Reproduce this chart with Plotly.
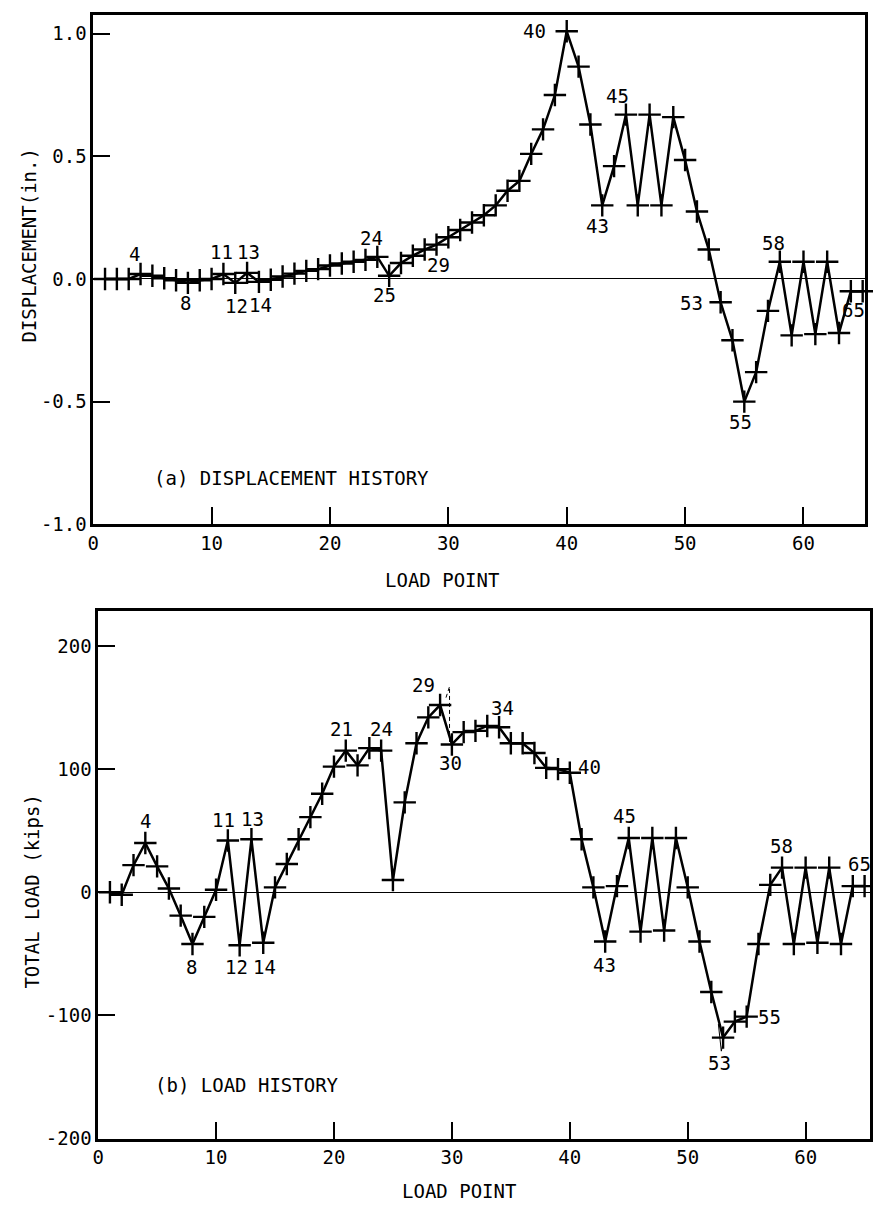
import plotly.graph_objects as go

# ---------------- data ----------------
load_points = list(range(1, 66))

displacement = [0.0, 0.0, 0.0, 0.02, 0.013, 0.003, -0.005, -0.016, -0.005, 0.0,
                0.02, -0.016, 0.025, -0.012, -0.003, 0.01, 0.022, 0.033, 0.04, 0.055,
                0.063, 0.07, 0.078, 0.09, 0.013, 0.065, 0.095, 0.12, 0.14, 0.17,
                0.2, 0.23, 0.26, 0.3, 0.36, 0.4, 0.51, 0.61, 0.75, 1.01,
                0.866, 0.63, 0.3, 0.46, 0.67, 0.3, 0.67, 0.3, 0.66, 0.485,
                0.275, 0.12, -0.095, -0.25, -0.5, -0.38, -0.13, 0.07, -0.23, 0.07,
                -0.225, 0.07, -0.22, -0.05, -0.05]

total_load = [0, -2, 22, 40, 21, 3, -19, -42, -20, 2,
              42, -43, 43, -41, 4, 23, 43, 61, 80, 102,
              115, 103, 117, 115, 10, 73, 121, 142, 152, 120,
              130, 131, 135, 134, 121, 121, 113, 101, 100, 97,
              43, 4, -40, 5, 44, -32, 44, -31, 44, 4,
              -40, -81, -118, -105, -101, -42, 6, 20, -42, 20,
              -41, 20, -42, 5, 5]

# auxiliary thin strokes in the load history (overshoot traces)
aux1_x = [29.5, 29.8, 29.8]
aux1_y = [158, 167, 121]
aux2_x = [52.6, 52.85, 53.1]
aux2_y = [-107, -129, -117]

disp_labels = [4, 8, 11, 12, 13, 14, 24, 25, 29, 40, 43, 45, 53, 55, 58, 65]
load_labels = [4, 8, 11, 12, 13, 14, 21, 24, 29, 30, 34, 40, 43, 45, 53, 55, 58, 65]

x_ticks = [0, 10, 20, 30, 40, 50, 60]
disp_ticks = [-1.0, -0.5, 0.0, 0.5, 1.0]
disp_tick_text = ["-1.0", "-0.5", "0.0", "0.5", "1.0"]
load_ticks = [-200, -100, 0, 100, 200]
load_tick_text = ["-200", "-100", "0", "100", "200"]

# ---------------- styles ----------------
FONT = "DejaVu Sans Mono"
W, H = 873, 1216

# label offsets (pixels) relative to the labelled point
disp_off = {4: (-6, 20), 8: (-2, -20), 11: (-2, 22), 12: (1, -23), 13: (1, 21),
            14: (2, -23), 24: (-6, 19), 25: (-5, -19), 29: (2, -20), 40: (-32, 0),
            43: (-5, -21), 45: (-8, 19), 53: (-29, -1), 55: (-4, -20), 58: (-6, 19),
            65: (-9, -19)}
load_off = {4: (0, 22), 8: (-1, -23), 11: (-4, 21), 12: (-3, -22), 13: (1, 20),
            14: (1, -24), 21: (-4, 22), 24: (0, 22), 29: (-17, 20), 30: (-1, -19),
            34: (3, 19), 40: (20, 6), 43: (-1, -23), 45: (-4, 22), 53: (-4, -25),
            55: (23, 0), 58: (-1, 22), 65: (-5, 22)}

line_style = dict(color="black", width=2.5)
marker_style = dict(symbol="cross-thin", size=16, line=dict(color="black", width=2.4), color="black")

fig = go.Figure()
fig.add_trace(go.Scatter(x=load_points, y=displacement, mode="lines+markers",
                         line=line_style, marker=marker_style, xaxis="x", yaxis="y",
                         cliponaxis=False, hoverinfo="skip"))
fig.add_trace(go.Scatter(x=load_points, y=total_load, mode="lines+markers",
                         line=line_style, marker=marker_style, xaxis="x2", yaxis="y2",
                         cliponaxis=False, hoverinfo="skip"))
fig.add_trace(go.Scatter(x=aux1_x, y=aux1_y, mode="lines",
                         line=dict(color="black", width=1, dash="4px,3px"),
                         xaxis="x2", yaxis="y2", hoverinfo="skip"))
fig.add_trace(go.Scatter(x=aux2_x, y=aux2_y, mode="lines",
                         line=dict(color="black", width=1),
                         xaxis="x2", yaxis="y2", hoverinfo="skip"))

annotations = []
for n in disp_labels:
    dx, dy = disp_off[n]
    annotations.append(dict(x=n, y=displacement[n - 1], xref="x", yref="y", text=str(n),
                            showarrow=False, xshift=dx, yshift=dy,
                            font=dict(family=FONT, size=19, color="black")))
for n in load_labels:
    dx, dy = load_off[n]
    annotations.append(dict(x=n, y=total_load[n - 1], xref="x2", yref="y2", text=str(n),
                            showarrow=False, xshift=dx, yshift=dy,
                            font=dict(family=FONT, size=19, color="black")))

# panel captions and axis titles
annotations += [
    dict(x=147 / W, y=1 - 482 / H, xref="paper", yref="paper", xanchor="left", yanchor="middle",
         text="(a) DISPLACEMENT HISTORY", showarrow=False,
         font=dict(family=FONT, size=19, color="black")),
    dict(x=148 / W, y=1 - 1095 / H, xref="paper", yref="paper", xanchor="left", yanchor="middle",
         text="(b) LOAD HISTORY", showarrow=False,
         font=dict(family=FONT, size=19, color="black")),
    dict(x=23 / W, y=1 - 248 / H, xref="paper", yref="paper", xanchor="center", yanchor="middle",
         text="DISPLACEMENT(in.)", textangle=-90, showarrow=False,
         font=dict(family=FONT, size=19, color="black")),
    dict(x=26 / W, y=1 - 900 / H, xref="paper", yref="paper", xanchor="center", yanchor="middle",
         text="TOTAL LOAD (kips)", textangle=-90, showarrow=False,
         font=dict(family=FONT, size=19, color="black")),
    dict(x=440 / W, y=1 - 585 / H, xref="paper", yref="paper", xanchor="center", yanchor="middle",
         text="LOAD POINT", showarrow=False,
         font=dict(family=FONT, size=19, color="black")),
    dict(x=457 / W, y=1 - 1202 / H, xref="paper", yref="paper", xanchor="center", yanchor="middle",
         text="LOAD POINT", showarrow=False,
         font=dict(family=FONT, size=19, color="black")),
]

axis_common = dict(showline=True, linecolor="black", linewidth=2.5, mirror=True,
                   ticks="inside", ticklen=17, tickwidth=2, tickcolor="black",
                   showgrid=False, tickfont=dict(family=FONT, size=19, color="black"),
                   fixedrange=True)

fig.update_layout(
    width=W, height=H,
    margin=dict(l=0, r=0, t=0, b=0),
    paper_bgcolor="white", plot_bgcolor="white",
    showlegend=False,
    annotations=annotations,
    xaxis=dict(domain=[88 / W, 867 / W], range=[0, 65.2], anchor="y",
               tickvals=x_ticks, zeroline=False, **axis_common),
    yaxis=dict(domain=[1 - 529 / H, 1 - 15 / H], range=[-1.0, 1.077], anchor="x",
               tickvals=disp_ticks, ticktext=disp_tick_text,
               zeroline=True, zerolinecolor="black", zerolinewidth=1, **axis_common),
    xaxis2=dict(domain=[93 / W, 872 / W], range=[0, 65.46], anchor="y2",
                tickvals=x_ticks, zeroline=False, **axis_common),
    yaxis2=dict(domain=[1 - 1149 / H, 1 - 617 / H], range=[-200, 228], anchor="x2",
                tickvals=load_ticks, ticktext=load_tick_text,
                zeroline=True, zerolinecolor="black", zerolinewidth=1, **axis_common),
)

fig.write_html("out.html", config={"displayModeBar": False},
               post_script="document.body.style.margin='0';document.body.style.overflow='hidden';")
